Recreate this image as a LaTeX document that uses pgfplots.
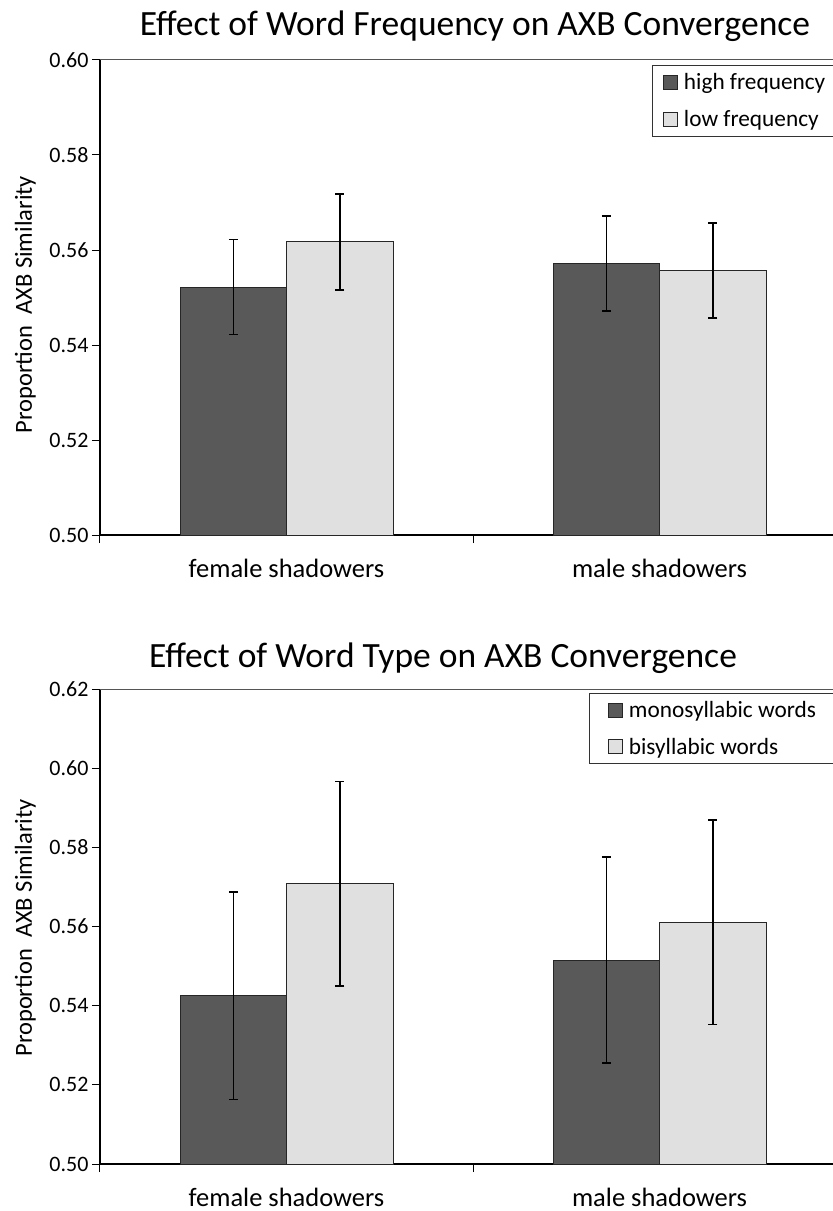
\documentclass[border=0pt]{standalone}
\usepackage{fontspec}
\setmainfont{Carlito}
\usepackage{pgfplots}
\pgfplotsset{compat=1.18}
\definecolor{darkbar}{RGB}{89,89,89}
\definecolor{lightbar}{RGB}{224,224,224}
\definecolor{topline}{RGB}{85,85,85}

\pgfplotsset{
 mystyle/.style={
  scale only axis, width=733pt, height=475pt,
  xmin=0, xmax=1.965, ymin=0.50,
  axis x line*=bottom, axis y line*=left,
  axis line style={-, line width=2pt, black},
  ybar=0pt, bar width=106.5pt,
  xtick={0,1}, xticklabels={},
  extra x ticks={0.5,1.5},
  extra x tick labels={female shadowers, male shadowers},
  extra x tick style={major tick length=0pt},
  xticklabel style={font=\fontsize{26.5}{31}\selectfont, anchor=center, yshift=-33pt},
  tick align=outside, major tick length=8pt,
  tick style={line width=1pt, black},
  /pgf/number format/assume math mode=true,
  yticklabel style={font=\fontsize{22}{26}\selectfont, /pgf/number format/.cd, fixed, fixed zerofill, precision=2},
  ylabel={Proportion\ \ AXB Similarity},
  ylabel style={font=\fontsize{24.5}{29}\selectfont, anchor=center},
  title style={font=\fontsize{35.5}{42}\selectfont, anchor=center},
  legend cell align=left,
  legend image code/.code={\draw[#1, line width=1pt] (0pt,-7pt) rectangle (14pt,7pt); \path[draw=none, fill=none] (0pt,0pt) -- (18pt,0pt);},
  legend style={draw=black!80, line width=1pt, font=\fontsize{23.3}{27}\selectfont, anchor=north west, inner ysep=6pt, row sep=15pt},
  error bars/y dir=both, error bars/y explicit,
  error bars/error bar style={line width=1.5pt, black},
  error bars/error mark options={rotate=90, mark size=4.5pt, line width=1.5pt, black},
 }
}

\begin{document}
\begin{tikzpicture}
\begin{axis}[mystyle, at={(0pt,0pt)}, anchor=south west,
  ymax=0.60, ytick={0.50,0.52,0.54,0.56,0.58,0.60},
  title={Effect of Word Frequency on AXB Convergence},
  title style={at={(0.5116,1.059)}},
  ylabel style={at={(axis description cs:-0.102,0.485)}},
  legend style={at={(0.753,0.989)}, inner xsep=11pt}]
\addplot[fill=darkbar, draw=black!85, line width=1pt] coordinates {(0.5,0.5522) +- (0,0.0100) (1.5,0.5572) +- (0,0.0100)};
\addlegendentry{high frequency}
\addplot[fill=lightbar, draw=black!85, line width=1pt] coordinates {(0.5,0.5617) +- (0,0.0101) (1.5,0.5557) +- (0,0.0100)};
\addlegendentry{low frequency}
\draw[topline, line width=1pt] (rel axis cs:0,1) -- (rel axis cs:1,1);
\end{axis}

\begin{axis}[mystyle, at={(0pt,-629pt)}, anchor=south west,
  ymax=0.62, ytick={0.50,0.52,0.54,0.56,0.58,0.60,0.62},
  title={Effect of Word Type on AXB Convergence},
  title style={at={(0.468,1.052)}},
  ylabel style={at={(axis description cs:-0.102,0.497)}},
  legend style={at={(0.667,0.992)}, inner xsep=19pt}]
\addplot[fill=darkbar, draw=black!85, line width=1pt] coordinates {(0.5,0.5425) +- (0,0.0262) (1.5,0.5515) +- (0,0.0260)};
\addlegendentry{monosyllabic words}
\addplot[fill=lightbar, draw=black!85, line width=1pt] coordinates {(0.5,0.5708) +- (0,0.0258) (1.5,0.5611) +- (0,0.0258)};
\addlegendentry{bisyllabic words}
\draw[topline, line width=1pt] (rel axis cs:0,1) -- (rel axis cs:1,1);
\end{axis}
\pgfresetboundingbox
\path (-100pt,-676pt) rectangle (733pt,535pt);
\end{tikzpicture}
\end{document}
